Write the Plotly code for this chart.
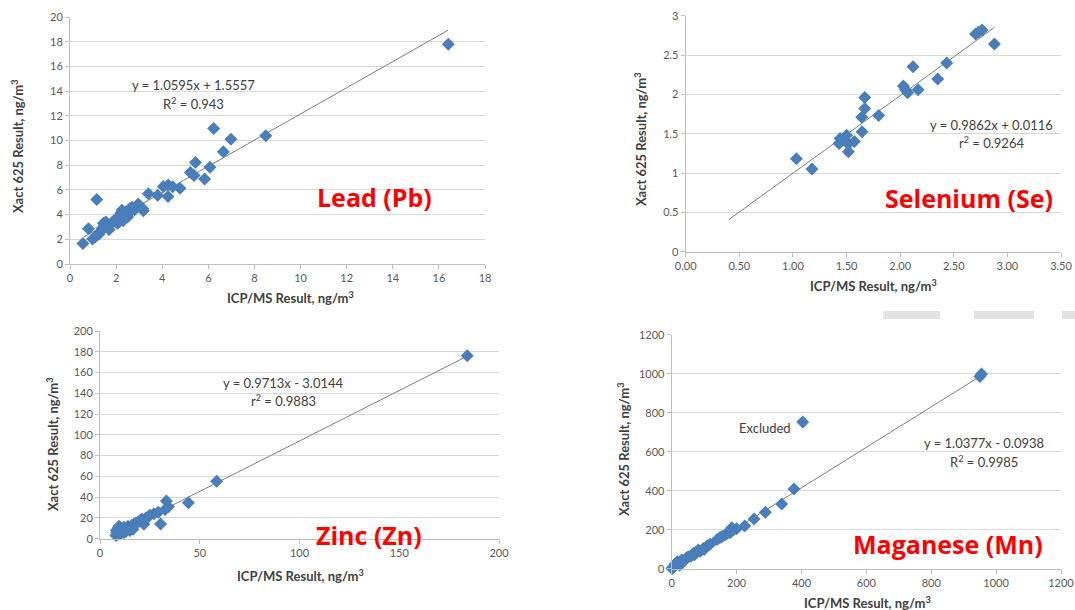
import plotly.graph_objects as go

W, H = 1075, 610

# ---------------- data ----------------
pb_x = [16.41, 8.49, 6.23, 6.98, 6.65, 6.07, 5.44, 5.22, 5.38, 5.84, 4.77, 4.26, 4.05, 3.80, 4.25,
        3.40, 3.18, 2.96, 1.16, 0.80, 0.56, 0.98, 1.10, 1.30, 1.40, 1.50, 1.55, 1.60, 1.70, 1.80,
        1.90, 2.00, 2.05, 2.10, 2.20, 2.25, 2.30, 2.35, 2.40, 2.50, 2.60, 2.70, 2.80, 3.00, 2.20,
        1.45, 1.25, 2.45, 2.65, 3.15, 4.45, 2.15]
pb_y = [17.80, 10.38, 10.97, 10.10, 9.08, 7.84, 8.22, 7.40, 7.16, 6.89, 6.14, 6.40, 6.27, 5.57, 5.46,
        5.68, 4.32, 4.86, 5.22, 2.86, 1.65, 2.03, 2.20, 2.60, 2.90, 3.10, 3.40, 3.00, 2.80, 3.30,
        3.50, 3.60, 3.30, 3.80, 4.10, 4.35, 3.50, 3.90, 4.20, 3.80, 4.50, 4.60, 4.40, 4.70, 3.70,
        3.30, 2.40, 4.00, 4.30, 4.50, 6.25, 3.45]

se_x = [1.032, 1.178, 1.43, 1.44, 1.50, 1.517, 1.517, 1.573, 1.645, 1.642, 1.67, 1.67, 1.80,
        2.03, 2.05, 2.07, 2.167, 2.12, 2.35, 2.434, 2.704, 2.764, 2.879, 1.47, 2.73]
se_y = [1.18, 1.05, 1.377, 1.44, 1.48, 1.27, 1.37, 1.40, 1.525, 1.71, 1.82, 1.96, 1.73,
        2.106, 2.06, 2.02, 2.06, 2.35, 2.195, 2.40, 2.767, 2.818, 2.64, 1.42, 2.79]

zn_x = [184.1, 58.5, 44.3, 33.3, 30.4, 34.3, 32.6, 29.2, 25.0, 8.0, 8.5, 9.0, 9.5, 10.0, 10.5,
        11.0, 12.0, 13.0, 14.0, 15.0, 16.0, 16.5, 17.0, 18.0, 19.0, 20.0, 21.0, 22.0, 22.5, 23.0,
        24.0, 8.2, 9.0, 10.0, 12.0, 15.0, 27.0]
zn_y = [176.2, 55.2, 34.7, 36.3, 14.1, 30.8, 28.2, 25.4, 22.5, 3.0, 6.0, 10.0, 12.0, 8.0, 5.0,
        9.0, 11.0, 7.0, 12.0, 10.0, 13.0, 9.0, 14.0, 15.0, 16.0, 17.0, 19.0, 14.0, 18.0, 20.0,
        21.0, 8.0, 4.0, 11.0, 6.0, 8.0, 24.0]

mn_x = [950, 955, 403.8, 377, 339, 288.7, 253.8, 225, 190, 185, 164, 149, 118, 97.6, 82, 67, 51,
        31, 17, 10, 3, 5, 12, 20, 25, 40, 45, 60, 70, 75, 88, 100, 110, 140, 155, 170, 180, 200, 1]
mn_y = [985, 998, 752, 408.5, 331.6, 289, 254.7, 218.8, 198, 210, 172.6, 160, 126, 104, 96, 78.6,
        61.5, 44, 36, 19, 5, 8, 25, 30, 18, 42, 55, 65, 72, 82, 90, 98, 118, 150, 165, 180, 185, 205, 1]

# trendline equations (slope, intercept) and their x extents as printed on the chart
pb_fit, pb_fit_x = (1.0595, 1.5557), [0.6, 16.4]
se_fit, se_fit_x = (0.9862, 0.0116), [0.4, 2.88]
zn_fit, zn_fit_x = (0.9713, -3.0144), [8.0, 184.0]
mn_fit, mn_fit_x = (1.0377, -0.0938), [0.0, 950.0]

pb_eq = ["y = 1.0595x + 1.5557", "R<sup>2</sup> = 0.943"]
se_eq = ["y = 0.9862x + 0.0116", "r<sup>2</sup> = 0.9264"]
zn_eq = ["y = 0.9713x - 3.0144", "r<sup>2</sup> = 0.9883"]
mn_eq = ["y = 1.0377x - 0.0938", "R<sup>2</sup> = 0.9985"]

names = ["Lead (Pb)", "Selenium (Se)", "Zinc (Zn)", "Maganese (Mn)"]

# ---------------- styling ----------------
FONT = "Lato, Open Sans, sans-serif"
MARK = "#4A7EBB"
TXT = "#595959"
RED = "#FF0000"

def px_dom_x(a, b):
    return [a / W, b / W]

def px_dom_y(top, bottom):
    return [1 - bottom / H, 1 - top / H]

panels = [
    dict(x=pb_x, y=pb_y, fit=pb_fit, fx=pb_fit_x, xr=[0, 18], yr=[0, 20], xd=2, yd=2, xf="",
         dx=px_dom_x(70, 485), dy=px_dom_y(17, 264)),
    dict(x=se_x, y=se_y, fit=se_fit, fx=se_fit_x, xr=[0, 3.5], yr=[0, 3], xd=0.5, yd=0.5, xf=".2f",
         dx=px_dom_x(685.7, 1061), dy=px_dom_y(15.7, 251.7)),
    dict(x=zn_x, y=zn_y, fit=zn_fit, fx=zn_fit_x, xr=[0, 200], yr=[0, 200], xd=50, yd=20, xf="",
         dx=px_dom_x(100, 499), dy=px_dom_y(331, 538.7)),
    dict(x=mn_x, y=mn_y, fit=mn_fit, fx=mn_fit_x, xr=[0, 1200], yr=[0, 1200], xd=200, yd=200, xf="",
         dx=px_dom_x(671.7, 1061), dy=px_dom_y(334.7, 568.7)),
]

fig = go.Figure()
layout = dict(
    width=W, height=H, margin=dict(l=0, r=0, t=0, b=0, autoexpand=False),
    paper_bgcolor="white", plot_bgcolor="white", showlegend=False,
    font=dict(family=FONT, size=11, color=TXT),
)

for i, p in enumerate(panels, start=1):
    xa = "x" if i == 1 else f"x{i}"
    ya = "y" if i == 1 else f"y{i}"
    m, c = p["fit"]
    fig.add_trace(go.Scatter(x=p["fx"], y=[m * v + c for v in p["fx"]], mode="lines",
                             line=dict(color="#7f7f7f", width=1), xaxis=xa, yaxis=ya,
                             hoverinfo="skip", cliponaxis=False))
    fig.add_trace(go.Scatter(x=p["x"], y=p["y"], mode="markers",
                             marker=dict(symbol="diamond", size=10, color=MARK,
                                         line=dict(width=0)),
                             xaxis=xa, yaxis=ya, cliponaxis=False))
    kx = "xaxis" if i == 1 else f"xaxis{i}"
    ky = "yaxis" if i == 1 else f"yaxis{i}"
    layout[kx] = dict(domain=p["dx"], range=p["xr"], dtick=p["xd"], tick0=0, tickformat=p["xf"],
                      showgrid=False, zeroline=False, showline=True, linecolor="#bfbfbf",
                      linewidth=1, ticks="outside", ticklen=4, tickcolor="#bfbfbf",
                      anchor=ya, automargin=False,
                      tickfont=dict(size=11, color=TXT, family=FONT))
    layout[ky] = dict(domain=p["dy"], range=p["yr"], dtick=p["yd"], tick0=0,
                      showgrid=True, gridcolor="#d9d9d9", gridwidth=1, zeroline=False,
                      showline=True, linecolor="#bfbfbf", linewidth=1, ticks="outside",
                      ticklen=4, tickcolor="#bfbfbf", anchor=xa, automargin=False,
                      tickfont=dict(size=11, color=TXT, family=FONT))

fig.update_layout(**layout)

ann = []

def pann(text, px, py, **kw):
    d = dict(text=text, x=px / W, y=1 - py / H, xref="paper", yref="paper",
             showarrow=False, xanchor="center", yanchor="middle")
    d.update(kw)
    ann.append(d)

XT = "ICP/MS Result, ng/m<sup>3</sup>"
YT = "Xact 625 Result, ng/m<sup>3</sup>"
tfont = dict(family=FONT, size=13, color="#404040")
bold = lambda s: "<b>" + s + "</b>"

# axis titles
for (xx, yy) in [(290, 298), (873, 286), (300, 575), (867, 602)]:
    pann(bold(XT), xx, yy, font=tfont)
for (xx, yy) in [(17, 147), (640, 140), (52, 445), (623, 450)]:
    pann(bold(YT), xx, yy, font=tfont, textangle=-90)

# element names
nfont = dict(family="Open Sans, sans-serif", size=25, color=RED)
for nm, (xx, yy) in zip(names, [(374, 197), (969, 198), (369, 535), (948, 544)]):
    pann(bold(nm), xx, yy, font=nfont)

# equations (data coordinates)
efont = dict(family=FONT, size=13, color="#404040")
def dann(text, x, y, i):
    ann.append(dict(text=text, x=x, y=y, xref="x" if i == 1 else f"x{i}",
                    yref="y" if i == 1 else f"y{i}", showarrow=False,
                    xanchor="center", yanchor="middle", font=efont))

dann(pb_eq[0], 5.35, 14.5, 1); dann(pb_eq[1], 5.35, 13.0, 1)
dann(se_eq[0], 2.85, 1.61, 2); dann(se_eq[1], 2.85, 1.39, 2)
dann(zn_eq[0], 92.2, 149.9, 3); dann(zn_eq[1], 92.2, 132.6, 3)
dann(mn_eq[0], 962.9, 644.6, 4); dann(mn_eq[1], 962.9, 552.3, 4)
dann("Excluded", 287.6, 721.5, 4)

fig.update_layout(annotations=ann)

# faint grey slide decoration above the Mn panel
for (a, b) in [(883, 940), (974, 1034), (1062, 1075)]:
    fig.add_shape(type="rect", xref="paper", yref="paper", x0=a / W, x1=b / W,
                  y0=1 - 319 / H, y1=1 - 311 / H, fillcolor="#e3e3e3", line=dict(width=0),
                  layer="below")

fig.write_html("out.html", config={"displayModeBar": False},
               post_script="document.body.style.margin='0';document.body.style.overflow='hidden';")
